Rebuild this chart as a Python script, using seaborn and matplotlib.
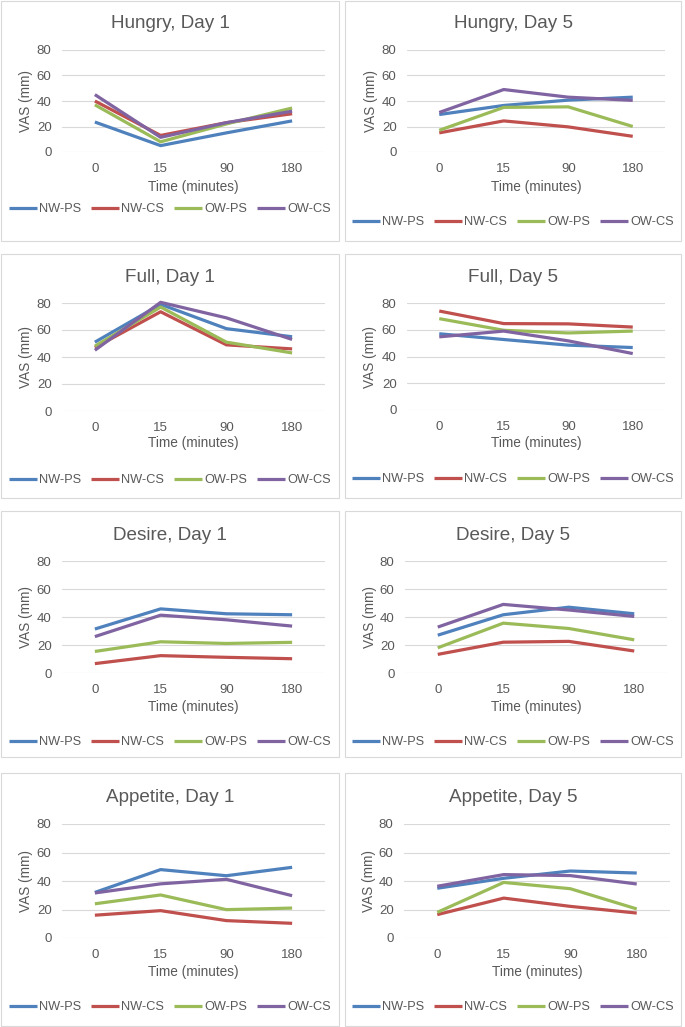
import matplotlib
matplotlib.use("Agg")
import matplotlib.pyplot as plt
import pandas as pd
import seaborn as sns
from matplotlib.patches import Rectangle

# Data (VAS in mm)
times = ["0", "15", "90", "180"]
groups = ["NW-PS", "NW-CS", "OW-PS", "OW-CS"]
colors = ["#4F81BD", "#C0504D", "#9BBB59", "#8064A2"]

# one row per group: NW-PS, NW-CS, OW-PS, OW-CS
hungry_day1 = [[23.5, 5, 15, 24.4], [40, 13, 23, 30], [37, 8, 22, 34.5], [45, 11.5, 23, 32]]
hungry_day5 = [[29.4, 36.5, 40.7, 43], [15, 24.4, 19.7, 12.3], [17, 35, 35.4, 20], [31, 49, 43, 40.5]]
full_day1 = [[51, 79, 61, 55], [47, 73.5, 49, 46], [48, 77, 51, 43], [45, 80.5, 69, 53]]
full_day5 = [[57, 52.7, 48.5, 46.7], [74, 64.6, 64.4, 62], [68.3, 59.6, 57.6, 59], [54.7, 59, 51.7, 42.2]]
desire_day1 = [[31.4, 45.8, 42.3, 41.6], [6.7, 12.4, 11.2, 10.2], [15.4, 22.3, 21.1, 21.9], [26, 41.3, 38, 33.5]]
desire_day5 = [[27, 41.6, 47, 42.3], [13.3, 22, 22.6, 15.7], [18, 35.6, 31.8, 23.7], [32.8, 49, 45, 40.4]]
appetite_day1 = [[32, 48, 43.7, 49.6], [16, 19.2, 12.2, 10.3], [24, 30.2, 19.9, 21], [31.6, 38, 41.2, 29.7]]
appetite_day5 = [[34.9, 41.9, 47, 45.6], [16.4, 28, 22.2, 17.5], [18, 39, 34.6, 20.4], [36.3, 44.5, 43.8, 37.9]]

titles = ["Hungry, Day 1", "Hungry, Day 5", "Full, Day 1", "Full, Day 5",
          "Desire, Day 1", "Desire, Day 5", "Appetite, Day 1", "Appetite, Day 5"]
panels = [hungry_day1, hungry_day5, full_day1, full_day5,
          desire_day1, desire_day5, appetite_day1, appetite_day5]

W, H = 685, 1027
TEXT = "#595959"
GRID = "#D9D9D9"

sns.set_theme(style="white")
plt.rcParams["font.family"] = ["Liberation Sans", "DejaVu Sans"]

# layout in pixels: plot area (left, top, right, bottom), panel box, title y,
# xlabel y, legend y, ylabel x
plot_boxes = [(62, 50, 325, 152), (407, 50, 665, 152),
              (62, 303, 325, 411), (407, 303, 665, 410),
              (62, 561, 325, 673), (405, 561, 667, 673),
              (62, 824, 325, 938), (404, 824, 670, 938)]
panel_boxes = [(1, 1, 339, 241), (345, 1, 681, 241),
               (1, 254, 339, 498), (345, 254, 681, 498),
               (1, 511, 339, 757), (345, 511, 681, 757),
               (1, 773, 339, 1026), (345, 773, 681, 1026)]
title_y = [23, 23, 277, 277, 535, 535, 797, 797]
xlabel_y = [187, 187, 443, 443, 707, 707, 972, 972]
legend_y = [209, 222, 480, 479, 742, 742, 1007, 1007]
ylabel_x = [26, 371, 26, 370, 26, 370, 26, 369]


def fx(px):
    return px / W


def fy(py):
    return 1 - py / H


def draw_panel(fig, i):
    l, t, r, b = plot_boxes[i]
    ax = fig.add_axes([fx(l), fy(b), fx(r) - fx(l), fy(t) - fy(b)])

    rows = []
    for g, vals in zip(groups, panels[i]):
        for tm, v in zip(times, vals):
            rows.append({"time": tm, "vas": v, "group": g})
    df = pd.DataFrame(rows)

    sns.lineplot(data=df, x="time", y="vas", hue="group", hue_order=groups,
                 palette=colors, sort=False, linewidth=2.3, ax=ax, legend=True)
    for line in ax.get_lines():
        line.set_clip_on(False)
        line.set_solid_capstyle("butt")

    ax.set_xlim(-0.5, 3.5)
    ax.set_ylim(0, 80)
    ax.set_yticks([0, 20, 40, 60, 80])
    ax.grid(axis="y", color=GRID, linewidth=0.8)
    ax.set_axisbelow(True)
    for s in ax.spines.values():
        s.set_visible(False)
    ax.tick_params(axis="both", length=0, labelsize=9.5, colors=TEXT)
    ax.tick_params(axis="y", pad=7.5)
    ax.tick_params(axis="x", pad=8)

    # axis labels
    ax.set_xlabel("Time (minutes)", fontsize=9.8, color=TEXT)
    ax.xaxis.label.set_va("center")
    ax.xaxis.set_label_coords(((l + r) / 2 - l) / (r - l), -(xlabel_y[i] - b) / (b - t))
    ax.set_ylabel("VAS (mm)", fontsize=9.8, color=TEXT)
    ax.yaxis.label.set_va("center")
    ax.yaxis.set_label_coords(-(l - ylabel_x[i]) / (r - l), 0.5)

    # title
    pl, pt, pr, pb = panel_boxes[i]
    fig.text(fx((pl + pr) / 2), fy(title_y[i]), titles[i], ha="center", va="center",
             fontsize=13.6, color=TEXT)

    # legend
    handles, labels = ax.get_legend_handles_labels()
    ax.get_legend().remove()
    leg = ax.legend(handles, labels, loc="center", ncol=4, frameon=False,
                    bbox_to_anchor=(fx((pl + pr) / 2), fy(legend_y[i])),
                    bbox_transform=fig.transFigure, fontsize=9.2,
                    handlelength=2.2, handletextpad=0.15, columnspacing=0.78,
                    borderaxespad=0)
    for h in leg.get_lines():
        h.set_linewidth(2.3)
    for txt in leg.get_texts():
        txt.set_color(TEXT)

    # panel border
    fig.patches.append(Rectangle((fx(pl), fy(pb)), fx(pr) - fx(pl), fy(pt) - fy(pb),
                                 transform=fig.transFigure, fill=False,
                                 edgecolor=GRID, linewidth=0.8))


def main():
    fig = plt.figure(figsize=(W / 100, H / 100), dpi=100)
    fig.patch.set_facecolor("white")
    for i in range(len(panels)):
        draw_panel(fig, i)
    fig.savefig("out.png", dpi=100, facecolor="white")


if __name__ == "__main__":
    main()
